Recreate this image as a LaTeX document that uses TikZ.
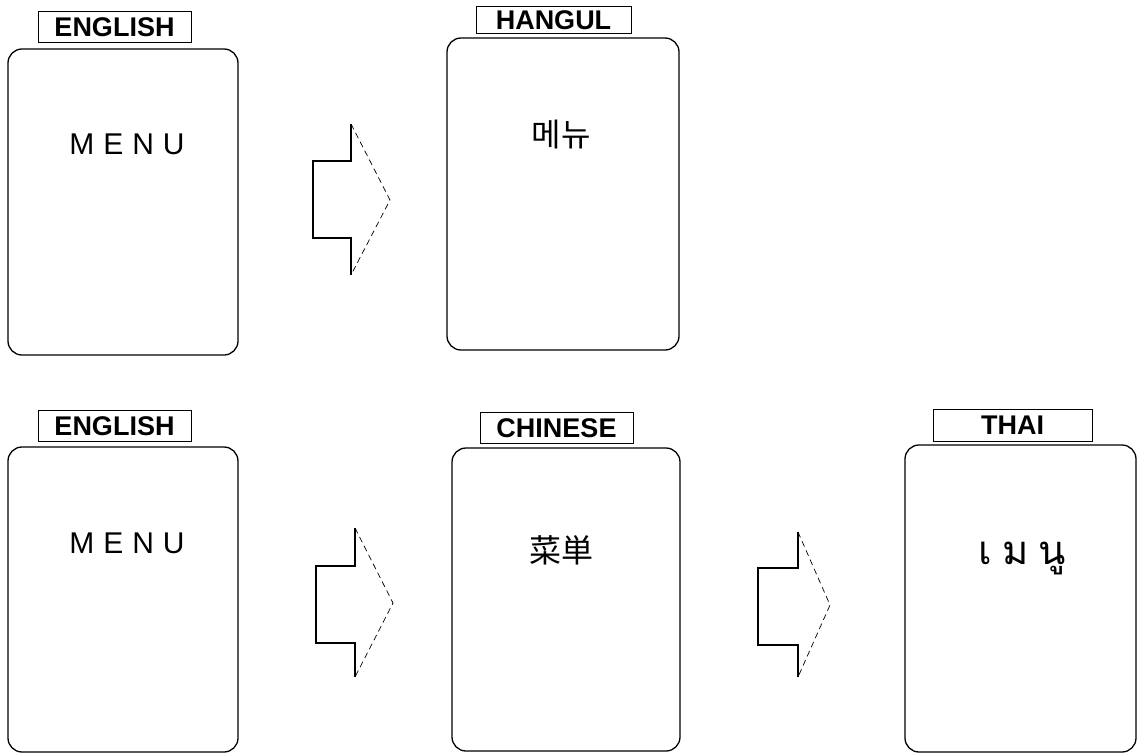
\documentclass[tikz,border=0pt]{standalone}
\usepackage{fontspec}
\setmainfont{Liberation Sans}
\newfontfamily\kofont{Noto Sans CJK KR}
\newfontfamily\jpfont{Noto Sans CJK JP}
\newfontfamily\thaifont[Script=Thai]{Loma}
\tikzset{
  screen/.style={draw, line width=1.3pt, rounded corners=14pt},
  tag/.style={draw, line width=0.8pt},
  tagtext/.style={font=\fontsize{27}{27}\selectfont\bfseries, inner sep=0pt},
  menutext/.style={font=\fontsize{30}{30}\selectfont, inner sep=0pt},
  arrbody/.style={line width=1.1pt},
  arrhead/.style={line width=0.7pt, dash pattern=on 6pt off 4pt},
}
\newcommand{\spacedmenu}{M\hspace{9pt}E\hspace{9pt}N\hspace{9pt}U}
\begin{document}
\begin{tikzpicture}[x=1pt,y=-1pt]
\useasboundingbox (0,0) rectangle (1137,755);
% ---- top row ----
\draw[tag] (38,11) rectangle (191,42);
\node[tagtext] (t1) at (114.5,27) {ENGLISH};
\draw[screen] (8,49) rectangle (238,355);
\node[menutext] (m1) at (127,144) {\spacedmenu};

\draw[arrbody] (351,124) -- (351,161) -- (313,161) -- (313,238) -- (351,238) -- (351,275);
\draw[arrhead] (351,124) -- (390,200) -- (351,275);

\draw[tag] (476,6) rectangle (631,33);
\node[tagtext] (t2) at (553.5,20) {HANGUL};
\draw[screen] (447,38) rectangle (679,350);
\node[inner sep=0pt, font=\fontsize{32}{32}\selectfont\kofont] (k1) at (561,135) {메뉴};

% ---- bottom row ----
\draw[tag] (38,410) rectangle (191,441);
\node[tagtext] (t3) at (114.5,426) {ENGLISH};
\draw[screen] (8,447) rectangle (238,752);
\node[menutext] (m2) at (127,543) {\spacedmenu};

\draw[arrbody] (355,528) -- (355,566) -- (316,566) -- (316,643) -- (355,643) -- (355,677);
\draw[arrhead] (355,528) -- (393,603) -- (355,677);

\draw[tag] (480,412) rectangle (633,443);
\node[tagtext] (t4) at (556.5,428) {CHINESE};
\draw[screen] (452,448) rectangle (680,751);
\node[inner sep=0pt, font=\fontsize{32}{32}\selectfont\jpfont] (c1) at (561,550) {菜単};

\draw[arrbody] (798,532) -- (798,568) -- (758,568) -- (758,645) -- (798,645) -- (798,677);
\draw[arrhead] (798,532) -- (830,605) -- (798,677);

\draw[tag] (933,409) rectangle (1092,441);
\node[tagtext] (t5) at (1012.5,425) {THAI};
\draw[screen] (905,445) rectangle (1136,752);
\node[inner sep=0pt, font=\fontsize{40}{40}\selectfont\thaifont] (th1) at (1022,558) {เ\hspace{10pt}ม\hspace{10pt}นู};
\end{tikzpicture}
\end{document}
